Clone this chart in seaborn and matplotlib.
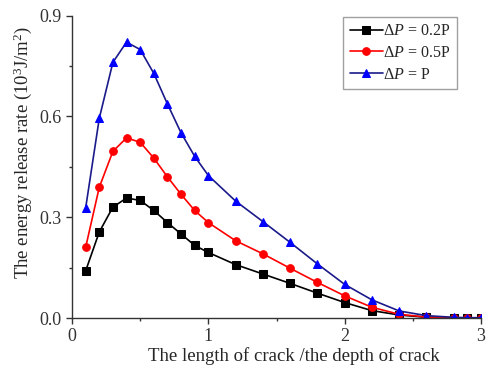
import numpy as np
import pandas as pd
import matplotlib
matplotlib.use("Agg")
import matplotlib.pyplot as plt
import seaborn as sns
from matplotlib.ticker import MultipleLocator

x = [0.1, 0.2, 0.3, 0.4, 0.5, 0.6, 0.7, 0.8, 0.9, 1.0, 1.2, 1.4, 1.6, 1.8, 2.0, 2.2, 2.4, 2.6, 2.8, 2.9, 3.0]
g_02 = [0.140, 0.256, 0.330, 0.357, 0.350, 0.320, 0.284, 0.250, 0.216, 0.195, 0.159, 0.131, 0.103, 0.074, 0.046, 0.022, 0.009, 0.002, 0.000, 0.000, 0.000]
g_05 = [0.210, 0.389, 0.496, 0.536, 0.523, 0.476, 0.420, 0.368, 0.320, 0.284, 0.230, 0.191, 0.148, 0.106, 0.066, 0.032, 0.011, 0.003, 0.001, 0.000, 0.000]
g_10 = [0.327, 0.594, 0.761, 0.821, 0.799, 0.728, 0.637, 0.551, 0.481, 0.424, 0.348, 0.287, 0.225, 0.161, 0.100, 0.054, 0.021, 0.007, 0.002, 0.001, 0.001]
labels = [r"$\Delta P$ = 0.2P", r"$\Delta P$ = 0.5P", r"$\Delta P$ = P"]

sns.set_style("ticks")
plt.rcParams["font.family"] = ["Liberation Serif", "DejaVu Serif"]
plt.rcParams["mathtext.fontset"] = "custom"
plt.rcParams["mathtext.rm"] = "Liberation Serif"
plt.rcParams["mathtext.it"] = "Liberation Serif:italic"

df = pd.DataFrame({"x": x * 3, "y": g_02 + g_05 + g_10,
                   "series": [labels[0]] * len(x) + [labels[1]] * len(x) + [labels[2]] * len(x)})

fig = plt.figure(figsize=(5, 3.67), dpi=100)
ax = fig.add_axes([0.144, 0.1335, 0.818, 0.824])

styles = [("black", "black", "s"), ("red", "red", "o"), ("#1a1a8a", "#0000ff", "^")]
for lab, (lc, mc, mk) in zip(labels, styles):
    sub = df[df["series"] == lab]
    sns.lineplot(data=sub, x="x", y="y", ax=ax, color=lc, marker=mk, markersize=5.5,
                 markerfacecolor=mc, markeredgecolor=mc, linewidth=1.2, label=lab)

ax.set_xlim(0, 3)
ax.set_ylim(0, 0.9)
ax.xaxis.set_major_locator(MultipleLocator(1))
ax.xaxis.set_minor_locator(MultipleLocator(0.5))
ax.yaxis.set_major_locator(MultipleLocator(0.3))
ax.yaxis.set_minor_locator(MultipleLocator(0.15))
ax.xaxis.set_major_formatter(matplotlib.ticker.FuncFormatter(lambda v, p: f"{v:.0f}"))
ax.yaxis.set_major_formatter(matplotlib.ticker.FuncFormatter(lambda v, p: f"{v:.1f}"))
ax.tick_params(axis="both", which="major", direction="out", length=4, width=1, labelsize=13, colors="#333333")
ax.tick_params(axis="both", which="minor", direction="out", length=2.5, width=1, colors="#333333")
for s in ["top", "right"]:
    ax.spines[s].set_visible(False)
for s in ["left", "bottom"]:
    ax.spines[s].set_color("#333333")
    ax.spines[s].set_linewidth(1)

ax.set_xlabel("The length of crack /the depth of crack", fontsize=13.5)
ax.set_ylabel(r"The energy release rate (10$^3$J/m$^2$)", fontsize=13.5)
ax.xaxis.set_label_coords(0.543, -0.095)
ax.yaxis.set_label_coords(-0.094, 0.547)

leg = ax.legend(loc="upper right", bbox_to_anchor=(0.941, 0.995), borderaxespad=0,
                fontsize=11.5, frameon=True, fancybox=False, edgecolor="#888888",
                handlelength=2.1, handletextpad=0.0, borderpad=0.4, labelspacing=0.35)
leg.get_frame().set_linewidth(1)

fig.savefig("out.png", dpi=100)
